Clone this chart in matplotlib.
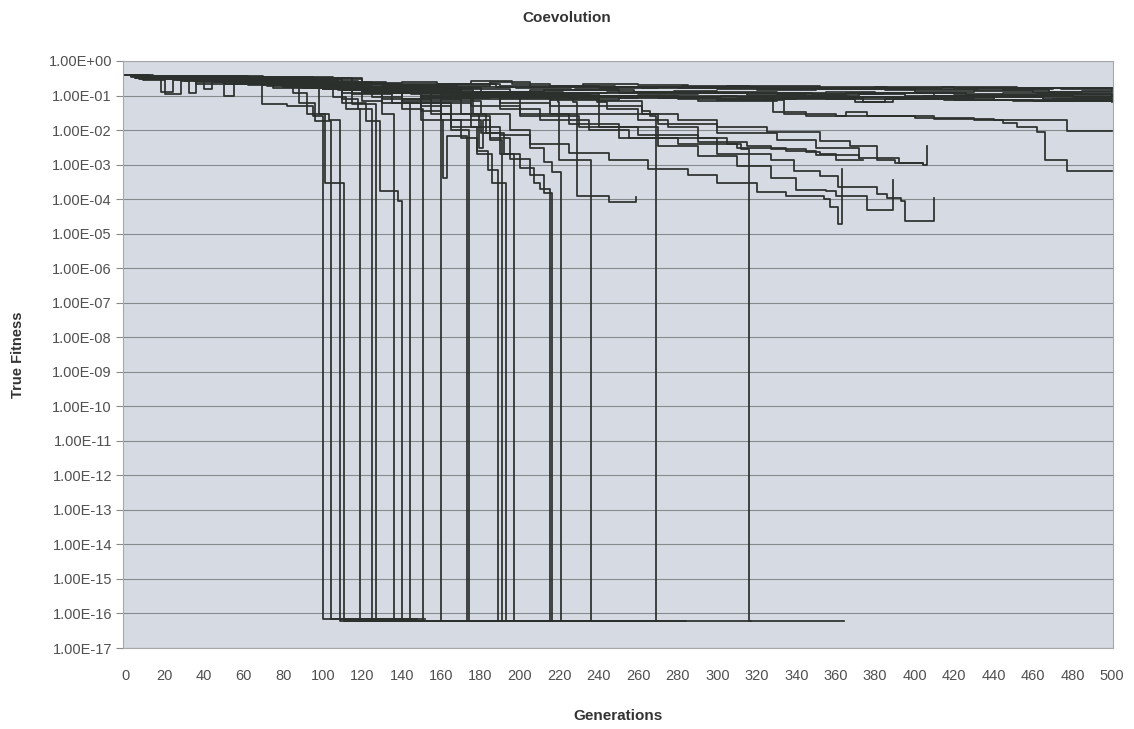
import numpy as np
import matplotlib.pyplot as plt
from matplotlib.ticker import FixedLocator, NullLocator

# each run: (generation, true fitness) breakpoints, held until the next one
FLOOR = 6e-17

# runs still in the top band at generation 500
run_b01 = [(0, .40), (3, .38), (18, .36), (40, .37), (62, .33), (78, .25), (96, .27), (118, .23), (140, .24), (158, .21),
           (175, .27), (196, .22), (215, .19), (232, .21), (260, .20), (285, .18), (305, .19), (330, .19), (352, .17),
           (380, .18), (420, .17), (445, .155), (470, .17), (500, .165)]
run_b02 = [(0, .40), (6, .34), (22, .30), (38, .33), (60, .28), (80, .24), (95, .21), (112, .23), (130, .20), (150, .19),
           (185, .25), (205, .18), (228, .17), (250, .175), (280, .16), (300, .15), (322, .158), (360, .15), (385, .14),
           (405, .148), (440, .14), (468, .13), (485, .138), (500, .14)]
run_b03 = [(0, .40), (8, .30), (18, .13), (24, .28), (46, .25), (70, .22), (90, .19), (110, .17), (128, .15), (142, .16),
           (170, .15), (195, .13), (212, .145), (230, .14), (258, .125), (278, .132), (300, .13), (330, .12), (355, .125),
           (380, .12), (420, .112), (445, .118), (470, .11), (500, .11)]
run_b04 = [(0, .40), (5, .33), (30, .27), (32, .12), (36, .25), (58, .23), (85, .18), (105, .16), (130, .14), (160, .12),
           (200, .13), (222, .12), (260, .11), (290, .115), (315, .105), (345, .10), (372, .108), (395, .10), (420, .095),
           (455, .10), (480, .093), (500, .095)]
run_b05 = [(0, .39), (10, .32), (45, .24), (50, .10), (55, .22), (72, .19), (90, .16), (108, .14), (125, .12), (150, .13),
           (190, .10), (240, .095), (265, .10), (310, .09), (350, .093), (400, .085), (430, .09), (465, .082), (500, .08)]
run_b06 = [(0, .40), (4, .36), (26, .29), (45, .27), (62, .20), (82, .18), (100, .15), (120, .16), (145, .11), (175, .12),
           (210, .09), (238, .095), (270, .085), (300, .09), (325, .085), (355, .08), (390, .085), (440, .075), (470, .08),
           (500, .072)]
run_b07 = [(0, .40), (12, .31), (35, .26), (55, .28), (80, .19), (100, .20), (120, .13), (140, .14), (165, .10), (190, .11),
           (225, .085), (260, .09), (300, .078), (340, .085), (374, .065), (389, .08), (420, .075), (460, .07), (500, .068)]
run_b08 = [(0, .40), (7, .33), (30, .31), (52, .27), (70, .25), (88, .22), (110, .20), (135, .16), (160, .17), (180, .13),
           (205, .14), (250, .12), (275, .125), (300, .118), (330, .11), (365, .115), (410, .10), (440, .105), (480, .098),
           (500, .098)]
run_b09 = [(0, .40), (9, .29), (20, .11), (28, .26), (50, .21), (75, .17), (95, .18), (115, .11), (135, .12), (155, .085),
           (185, .10), (215, .075), (250, .085), (290, .07), (330, .078), (370, .066), (385, .08), (415, .072), (450, .068),
           (500, .065)]
run_b10 = [(0, .40), (3, .35), (42, .31), (60, .30), (78, .24), (100, .25), (125, .22), (160, .21), (190, .19), (240, .17),
           (270, .18), (320, .14), (350, .15), (400, .13), (430, .135), (460, .125), (500, .13)]
run_b11 = [(0, .40), (5, .36), (25, .33), (48, .30), (66, .27), (90, .23), (104, .24), (132, .19), (168, .18), (198, .16),
           (226, .175), (262, .165), (298, .17), (334, .16), (362, .165), (398, .155), (432, .16), (474, .15), (500, .155)]
run_b12 = [(0, .40), (11, .33), (33, .29), (40, .15), (44, .28), (68, .23), (92, .17), (116, .15), (146, .145), (176, .13),
           (208, .12), (244, .125), (276, .115), (312, .12), (348, .11), (384, .115), (426, .105), (462, .11), (500, .105)]
run_b13 = [(0, .40), (4, .37), (28, .34), (56, .31), (84, .26), (108, .21), (138, .20), (164, .22), (188, .18), (218, .185),
           (248, .18), (282, .185), (316, .175), (348, .18), (386, .17), (414, .175), (452, .165), (500, .17)]
run_b14 = [(0, .40), (14, .30), (36, .22), (58, .25), (76, .20), (102, .17), (122, .12), (150, .10), (172, .095), (202, .105),
           (236, .098), (268, .092), (302, .10), (338, .094), (366, .09), (404, .095), (438, .088), (478, .092), (500, .09)]

# runs that leave the band late and survive to 500
run_m01 = [(0, .40), (6, .33), (60, .26), (100, .18), (160, .12), (220, .095), (280, .08), (328, .033), (345, .026), (365, .033),
           (376, .025), (410, .021), (440, .019), (477, .0095), (500, .0095)]
run_m02 = [(0, .40), (10, .31), (70, .23), (110, .15), (170, .11), (240, .09), (300, .075), (334, .030), (360, .026), (400, .022),
           (430, .019), (445, .016), (452, .012), (462, .009), (466, .0014), (477, .00065), (500, .00065)]

# runs that stop early without reaching the floor
run_e01 = [(0, .40), (8, .32), (60, .25), (110, .16), (160, .11), (200, .08), (240, .05), (262, .03), (280, .02), (300, .012),
           (325, .009), (352, .0048), (367, .0034), (381, .0014), (390, .0011), (404, .0010), (406, .0034)]
run_e02 = [(0, .40), (10, .30), (70, .22), (120, .14), (150, .09), (175, .05), (200, .025), (230, .012), (260, .007), (290, .0045),
           (315, .0035), (327, .0028), (345, .0023), (352, .002), (360, .0014), (374, .0014)]
run_e03 = [(0, .40), (5, .34), (60, .23), (110, .12), (150, .06), (160, .03), (175, .012), (190, .007), (205, .004), (225, .0022),
           (245, .0014), (265, .00075), (285, .0005), (300, .0003), (320, .00016), (335, .00012), (354, .0001), (357, .00006),
           (361, .000019), (363, .00074)]
run_e04 = [(0, .40), (7, .32), (65, .24), (115, .15), (160, .08), (200, .03), (225, .015), (250, .006), (270, .0035), (290, .0018),
           (310, .0009), (327, .0004), (340, .00018), (355, .00017), (360, .00012), (376, .00005), (389, .00035)]
run_e05 = [(0, .40), (9, .31), (55, .25), (100, .17), (150, .12), (190, .06), (215, .03), (240, .012), (270, .006), (300, .002),
           (327, .0014), (339, .00065), (352, .00046), (361, .00023), (381, .00014), (386, .00011), (393, .00009), (395, .000023),
           (410, .00011)]
run_e06 = [(0, .40), (6, .33), (50, .26), (95, .18), (140, .12), (190, .085), (227, .065), (229, .00012), (245, .000085), (259, .000115)]
run_e07 = [(0, .40), (9, .31), (100, .17), (170, .09), (215, .05), (240, .03), (270, .015), (300, .008), (330, .005), (350, .003),
           (372, .0016), (392, .0011), (404, .00105)]
run_e08 = [(0, .40), (7, .32), (90, .18), (150, .10), (190, .04), (210, .02), (235, .01), (255, .006), (280, .004), (310, .003),
           (335, .0025), (350, .0019), (372, .0016)]

# runs that hit the floor
run_f01 = [(0, .40), (8, .33), (30, .30), (69, .056), (82, .05), (95, .025), (100, 7e-17), (148, 7e-17)]
run_f02 = [(0, .40), (5, .35), (50, .27), (85, .12), (92, .03), (101, 3e-4), (111, FLOOR), (159, FLOOR)]
run_f03 = [(0, .40), (7, .31), (60, .22), (88, .06), (96, .018), (104, 7e-17), (152, 7e-17)]
run_f04 = [(0, .40), (10, .30), (70, .20), (98, .03), (103, .02), (109, FLOOR), (157, FLOOR)]
run_f05 = [(0, .40), (6, .34), (75, .20), (105, .09), (112, .04), (119, FLOOR), (167, FLOOR)]
run_f06 = [(0, .40), (9, .30), (80, .19), (110, .08), (118, .04), (125, FLOOR), (173, FLOOR)]
run_f07 = [(0, .40), (4, .36), (70, .23), (115, .056), (127, FLOOR), (175, FLOOR)]
run_f08 = [(0, .40), (8, .31), (80, .18), (110, .06), (122, .018), (129, .00017), (138, .00009), (140, FLOOR), (188, FLOOR)]
run_f09 = [(0, .40), (5, .33), (80, .20), (120, .07), (130, .03), (136, FLOOR), (184, FLOOR)]
run_f10 = [(0, .40), (10, .30), (90, .17), (130, .06), (144, FLOOR), (192, FLOOR)]
run_f11 = [(0, .40), (6, .32), (85, .19), (125, .09), (140, .04), (151, FLOOR), (199, FLOOR)]
run_f12 = [(0, .40), (8, .31), (90, .18), (130, .08), (150, .035), (160, FLOOR), (208, FLOOR)]
run_f13 = [(0, .40), (7, .33), (95, .17), (135, .06), (150, .02), (161, .0004), (163, .0067), (173, FLOOR), (221, FLOOR)]
run_f14 = [(0, .40), (5, .34), (95, .18), (140, .08), (155, .03), (165, .01), (174, FLOOR), (222, FLOOR)]
run_f15 = [(0, .40), (9, .30), (100, .15), (140, .07), (160, .02), (170, .006), (178, .0025), (184, .0007), (189, FLOOR), (237, FLOOR)]
run_f16 = [(0, .40), (6, .33), (100, .16), (150, .09), (176, .03), (179, .003), (181, .02), (185, .005), (191, FLOOR), (239, FLOOR)]
run_f17 = [(0, .40), (8, .31), (100, .15), (140, .06), (165, .012), (178, .002), (186, .0003), (193, FLOOR), (241, FLOOR)]
run_f18 = [(0, .40), (5, .35), (105, .16), (150, .08), (170, .03), (183, .008), (190, .002), (197, FLOOR), (245, FLOOR)]
run_f19 = [(0, .40), (7, .33), (110, .14), (150, .05), (165, .02), (180, .008), (192, .002), (200, .0008), (207, .0003),
           (210, .0002), (215, FLOOR), (263, FLOOR)]
run_f20 = [(0, .40), (9, .30), (110, .14), (160, .06), (175, .025), (185, .006), (195, .0015), (205, .0005), (212, .00015),
           (216, FLOOR), (264, FLOOR)]
run_f21 = [(0, .40), (6, .33), (115, .14), (160, .07), (180, .03), (195, .01), (205, .003), (212, .0012), (216, .0006),
           (221, FLOOR), (269, FLOOR)]
run_f22 = [(0, .40), (8, .31), (120, .13), (170, .09), (219, .065), (220, .0014), (236, FLOOR), (284, FLOOR)]
run_f23 = [(0, .40), (6, .33), (120, .13), (180, .09), (240, .07), (262, .035), (266, .025), (269, FLOOR), (317, FLOOR)]
run_f24 = [(0, .40), (10, .30), (110, .14), (170, .09), (239, .065), (244, .04), (260, .02), (275, .012), (290, .006),
           (305, .004), (312, .0028), (316, FLOOR), (364, FLOOR)]

runs = [run_b01, run_b02, run_b03, run_b04, run_b05, run_b06, run_b07, run_b08, run_b09, run_b10,
        run_b11, run_b12, run_b13, run_b14,
        run_m01, run_m02,
        run_e01, run_e02, run_e03, run_e04, run_e05, run_e06, run_e07, run_e08,
        run_f01, run_f02, run_f03, run_f04, run_f05, run_f06, run_f07, run_f08, run_f09, run_f10, run_f11, run_f12,
        run_f13, run_f14, run_f15, run_f16, run_f17, run_f18, run_f19, run_f20, run_f21, run_f22, run_f23, run_f24]

x_ticks = list(range(0, 501, 20))
y_ticks = [10.0 ** -k for k in range(0, 18)]

plt.rcParams['font.family'] = ['Liberation Sans', 'DejaVu Sans']

fig = plt.figure(figsize=(11.34, 7.29), dpi=100)
ax = fig.add_axes([123 / 1134, 81 / 729, 990 / 1134, 587 / 729])
ax.set_facecolor('#d6dae2')

for run in runs:
    g = [p[0] for p in run]
    f = [p[1] for p in run]
    ax.step(g, f, where='post', color='#2b302c', lw=1.25)

ax.set_yscale('log')
ax.set_ylim(1e-17, 1e0)
ax.set_xlim(-1.2, 500.5)

ax.yaxis.set_major_locator(FixedLocator(y_ticks))
ax.yaxis.set_minor_locator(NullLocator())
ax.set_yticklabels(['%.2E' % v for v in y_ticks])
ax.set_xticks(x_ticks)
ax.set_xticklabels([str(v) for v in x_ticks])

ax.grid(axis='y', color='#868b90', lw=0.8)
ax.set_axisbelow(True)
ax.tick_params(axis='y', length=5, color='#8a8a8a', labelcolor='#505050', labelsize=10.5, pad=3)
ax.tick_params(axis='x', length=0, labelcolor='#505050', labelsize=10.5, pad=15)
for s in ax.spines.values():
    s.set_color('#a8a8a8')
    s.set_linewidth(0.8)

fig.text(0.5, 1 - 18 / 729, 'Coevolution', ha='center', va='center', fontsize=11, fontweight='bold', color='#333333')
fig.text(618 / 1134, 1 - 716 / 729, 'Generations', ha='center', va='center', fontsize=11, fontweight='bold', color='#333333')
fig.text(18 / 1134, 1 - 355 / 729, 'True Fitness', ha='center', va='center', rotation=90, fontsize=10.5,
         fontweight='bold', color='#333333')

fig.savefig('out.png', dpi=100)
